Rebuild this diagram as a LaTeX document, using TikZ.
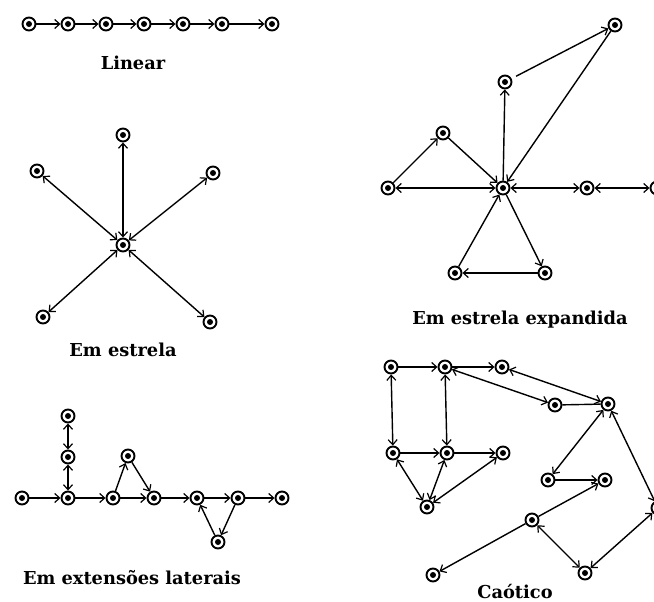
\documentclass[tikz,border=0pt]{standalone}
\usepackage{fontspec}
\setmainfont{DejaVu Serif}
\usetikzlibrary{arrows.meta}
\begin{document}
\begin{tikzpicture}[x=1pt,y=-1pt,
  nd/.style={circle, draw, line width=1.9pt, minimum size=13pt, inner sep=0pt, fill=white,
    path picture={\fill[black] (path picture bounding box.center) circle (3pt);}},
  lbl/.style={font=\fontsize{17.8}{20}\selectfont\bfseries, inner sep=0pt},
  tip/.tip={Straight Barb[length=5pt,width=9pt,line width=1.2pt]},
  ed/.style={line width=1.4pt, -tip},
  bi/.style={line width=1.4pt, tip-tip},
  pl/.style={line width=1.4pt}]
\useasboundingbox (0,0) rectangle (654,602);

% ---- Linear
\node[nd] (l1) at (29,24) {};
\node[nd] (l2) at (68,24) {};
\node[nd] (l3) at (106,24) {};
\node[nd] (l4) at (144,24) {};
\node[nd] (l5) at (183,24) {};
\node[nd] (l6) at (222,24) {};
\node[nd] (l7) at (272,24) {};
\foreach \a/\b in {l1/l2,l2/l3,l3/l4,l4/l5,l5/l6,l6/l7} \draw[ed] (\a) -- (\b);
\node[lbl] (tlin) at (133,63) {Linear};

% ---- Star
\node[nd] (sc) at (123,245) {};
\node[nd] (st) at (123,135) {};
\node[nd] (stl) at (37,171) {};
\node[nd] (str) at (213,173) {};
\node[nd] (sbl) at (43,317) {};
\node[nd] (sbr) at (210,322) {};
\foreach \b in {st,stl,str,sbl,sbr} \draw[bi] (sc) -- (\b);
\node[lbl] (tstar) at (123,350) {Em estrela};

% ---- Expanded star
\node[nd] (ec) at (503,188) {};
\node[nd] (el) at (388,188) {};
\node[nd] (er1) at (587,188) {};
\node[nd] (er2) at (657,188) {};
\node[nd] (etl) at (443,133) {};
\node[nd] (eu) at (505,82) {};
\node[nd] (etr) at (615,25) {};
\node[nd] (ebl) at (455,273) {};
\node[nd] (ebr) at (545,273) {};
\draw[ed] (el) -- (etl);
\draw[ed] (etl) -- (ec);
\draw[bi] (ec) -- (el);
\draw[ed] (ec) -- (eu);
\draw[ed, shorten <=5pt] (eu) -- (etr);
\draw[ed] (etr) -- (ec);
\draw[bi] (ec) -- (er1);
\draw[bi] (er1) -- (er2);
\draw[ed] (ebl) -- (ec);
\draw[ed] (ec) -- (ebr);
\draw[ed] (ebr) -- (ebl);
\node[lbl] (texp) at (520,320) {Em estrela expandida};

% ---- Lateral extensions
\node[nd] (a1) at (22,498) {};
\node[nd] (a2) at (68,498) {};
\node[nd] (a3) at (113,498) {};
\node[nd] (a4) at (154,498) {};
\node[nd] (a5) at (197,498) {};
\node[nd] (a6) at (238,498) {};
\node[nd] (a7) at (282,498) {};
\node[nd] (v1) at (68,457) {};
\node[nd] (v2) at (68,416) {};
\node[nd] (at) at (128,456) {};
\node[nd] (ab) at (218,542) {};
\foreach \a/\b in {a1/a2,a2/a3,a3/a4,a4/a5,a5/a6,a6/a7} \draw[ed] (\a) -- (\b);
\draw[bi] (a2) -- (v1);
\draw[bi] (v1) -- (v2);
\draw[ed] (a3) -- (at);
\draw[ed] (at) -- (a4);
\draw[ed] (ab) -- (a5);
\draw[ed] (a6) -- (ab);
\node[lbl] (tlat) at (132,578) {Em extensões laterais};

% ---- Chaotic
\node[nd] (n1) at (391,367) {};
\node[nd] (n2) at (445,367) {};
\node[nd] (n3) at (502,367) {};
\node[nd] (n4) at (555,405) {};
\node[nd] (n5) at (608,404) {};
\node[nd] (n6) at (393,453) {};
\node[nd] (n7) at (447,453) {};
\node[nd] (n8) at (503,453) {};
\node[nd] (n9) at (427,507) {};
\node[nd] (n10) at (548,480) {};
\node[nd] (n11) at (605,480) {};
\node[nd] (n12) at (658,508) {};
\node[nd] (n13) at (532,520) {};
\node[nd] (n14) at (433,575) {};
\node[nd] (n15) at (585,573) {};
\draw[ed] (n1) -- (n2);
\draw[ed] (n2) -- (n3);
\draw[bi] (n1) -- (n6);
\draw[bi] (n2) -- (n7);
\draw[bi] (n2) -- (n4);
\draw[bi] (n3) -- (n5);
\draw[pl] (n4) -- (n5);
\draw[ed] (n6) -- (n7);
\draw[ed] (n7) -- (n8);
\draw[bi] (n6) -- (n9);
\draw[bi] (n9) -- (n7);
\draw[bi] (n9) -- (n8);
\draw[bi] (n5) -- (n10);
\draw[ed] (n10) -- (n11);
\draw[ed] (n13) -- (n11);
\draw[ed] (n13) -- (n14);
\draw[bi] (n13) -- (n15);
\draw[bi] (n15) -- (n12);
\draw[bi] (n12) -- (n5);
\node[lbl] (tcha) at (515,592) {Caótico};
\end{tikzpicture}
\end{document}
